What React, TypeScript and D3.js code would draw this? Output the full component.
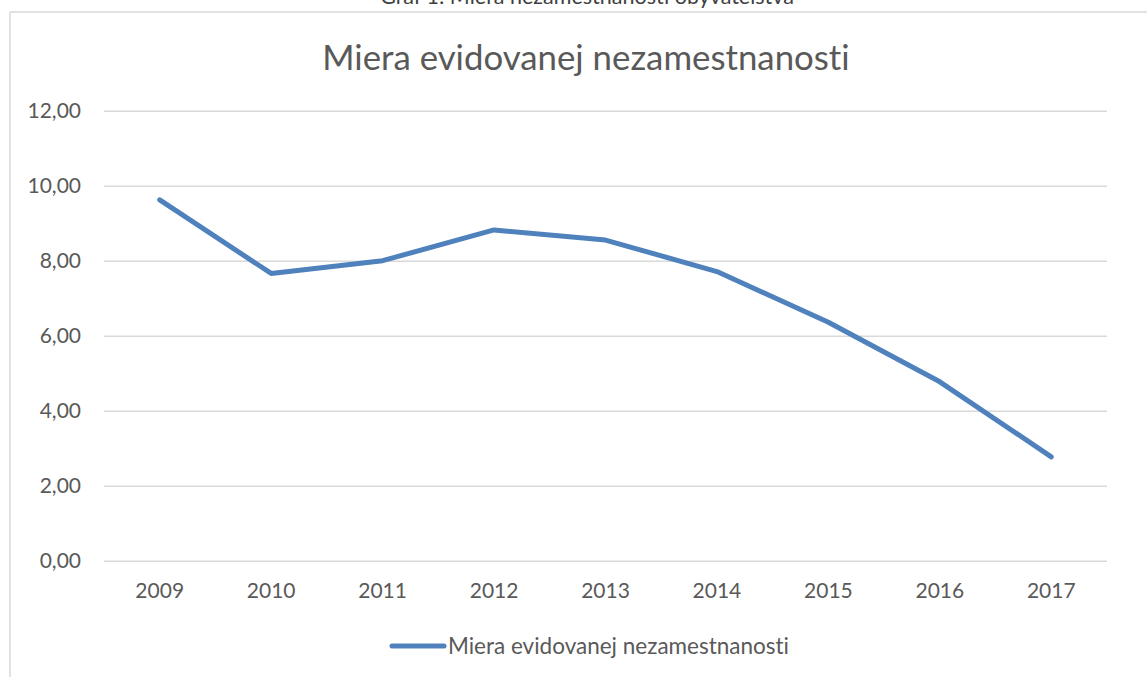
import React, { useRef, useEffect } from "react";
import * as d3 from "d3";

const years = ["2009", "2010", "2011", "2012", "2013", "2014", "2015", "2016", "2017"];
const rates = [9.62, 7.66, 8.0, 8.82, 8.55, 7.71, 6.36, 4.77, 2.77];
const yTicks = [0, 2, 4, 6, 8, 10, 12];

const caption = "Graf 1: Miera nezamestnanosti obyvateľstva";
const title = "Miera evidovanej nezamestnanosti";
const seriesName = "Miera evidovanej nezamestnanosti";

const W = 1147;
const H = 677;
const FONT = "Lato, 'Open Sans', sans-serif";

const App = () => {
  const svgRef = useRef<SVGSVGElement>(null);

  useEffect(() => {
    const svg = d3.select(svgRef.current);
    svg.selectAll("*").remove();

    const plot = { left: 104, right: 1107, top: 110.7, bottom: 560.7 };

    const x = d3.scaleBand()
      .domain(years)
      .range([plot.left, plot.right])
      .padding(0);

    const y = d3.scaleLinear()
      .domain([0, 12])
      .range([plot.bottom, plot.top]);

    // chart area border, only left and top edges fall inside the picture
    svg.append("line")
      .attr("x1", 10).attr("x2", 10)
      .attr("y1", 12).attr("y2", H)
      .attr("stroke", "#d9d9d9").attr("stroke-width", 1.5);
    svg.append("line")
      .attr("x1", 10).attr("x2", W)
      .attr("y1", 12).attr("y2", 12)
      .attr("stroke", "#d9d9d9").attr("stroke-width", 1.5);

    // document caption, cropped at the top like in the source
    svg.append("text")
      .attr("x", 587).attr("y", 4)
      .attr("text-anchor", "middle")
      .attr("font-family", FONT)
      .attr("font-size", 21.5)
      .attr("fill", "#404040")
      .text(caption);

    svg.append("text")
      .attr("x", 586).attr("y", 70)
      .attr("text-anchor", "middle")
      .attr("font-family", FONT)
      .attr("font-size", 34.8)
      .attr("fill", "#595959")
      .style("font-variant-ligatures", "none")
      .text(title);

    // gridlines + y labels
    const yAxis = d3.axisLeft(y)
      .tickValues(yTicks)
      .tickSize(-(plot.right - plot.left))
      .tickPadding(23)
      .tickFormat((d) => d3.format(".2f")(d as number).replace(".", ","));

    const gy = svg.append("g")
      .attr("transform", `translate(${plot.left},0)`)
      .call(yAxis);
    gy.select(".domain").remove();
    gy.selectAll(".tick line")
      .attr("stroke", "#d9d9d9")
      .attr("stroke-width", 1.5);
    gy.selectAll(".tick text")
      .attr("font-family", FONT)
      .attr("font-size", 21)
      .attr("fill", "#595959");

    // x labels
    const xAxis = d3.axisBottom(x).tickSize(0).tickPadding(22);
    const gx = svg.append("g")
      .attr("transform", `translate(0,${plot.bottom})`)
      .call(xAxis);
    gx.select(".domain").remove();
    gx.selectAll(".tick text")
      .attr("font-family", FONT)
      .attr("font-size", 21)
      .attr("fill", "#595959");

    const line = d3.line<number>()
      .x((_, i) => (x(years[i]) as number) + x.bandwidth() / 2)
      .y((d) => y(d));

    svg.append("path")
      .datum(rates)
      .attr("d", line)
      .attr("fill", "none")
      .attr("stroke", "#4f81bd")
      .attr("stroke-width", 5)
      .attr("stroke-linejoin", "round")
      .attr("stroke-linecap", "round");

    // legend
    const lg = svg.append("g").attr("transform", "translate(392,646)");
    lg.append("line")
      .attr("x1", 0).attr("x2", 52)
      .attr("y1", 0).attr("y2", 0)
      .attr("stroke", "#4f81bd")
      .attr("stroke-width", 5)
      .attr("stroke-linecap", "round");
    lg.append("text")
      .attr("x", 56).attr("y", 7.5)
      .attr("font-family", FONT)
      .attr("font-size", 22.5)
      .attr("fill", "#595959")
      .style("font-variant-ligatures", "none")
      .text(seriesName);
  }, []);

  return (
    <svg
      ref={svgRef}
      width={W}
      height={H}
      style={{ position: "absolute", left: 0, top: 0, background: "#fff" }}
    />
  );
};

export default App;
